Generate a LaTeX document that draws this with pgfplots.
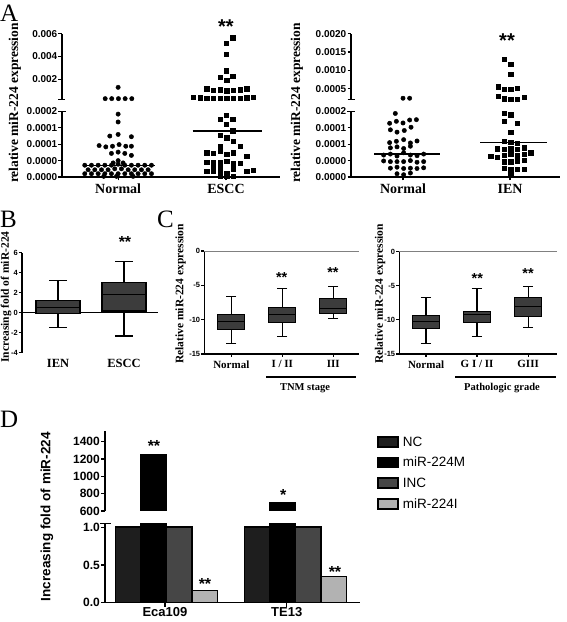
\documentclass[border=0pt]{standalone}
\usepackage{fontspec}
\setmainfont{Liberation Serif}
\newfontfamily\arial{Liberation Sans}
\usepackage{pgfplots}
\pgfplotsset{compat=1.18}
\usepgfplotslibrary{statistics}
\definecolor{boxgray}{HTML}{3C3C3C}
\definecolor{ncc}{HTML}{1E1E1E}
\definecolor{incc}{HTML}{464646}
\definecolor{mic}{HTML}{B2B2B2}
\newcommand{\fs}[1]{\fontsize{#1}{#1}\selectfont}
\pgfplotsset{
  gp/.style={scale only axis, clip=false, anchor=south west,
    axis x line*=bottom, axis y line*=left,
    axis line style={line width=1.2pt, black},
    tick style={line width=1.2pt, black},
    tick align=outside, major tick length=3.5pt,
    scaled y ticks=false},
  atk/.style={yticklabel style={font=\arial\bfseries\fs{10}, inner sep=1pt},
    xticklabel style={font=\bfseries\fs{14}}},
  dlegend/.style={legend image code/.code={\draw[##1, line width=1.6pt] (0pt,-5pt) rectangle (20pt,5pt);}},
  circ/.style={only marks, mark=*, mark size=2.2pt, black},
  sq/.style={only marks, mark=square*, mark size=2.2pt, black},
  bx/.style={draw=black, fill=boxgray, line width=1.2pt},
}
\begin{document}
\begin{tikzpicture}
\path[use as bounding box] (0,0) rectangle (567pt,622pt);

% ---------------- Panel A left ----------------
\begin{axis}[gp, atk, at={(62pt,445pt)}, width=218pt, height=65.5pt,
  xmin=0.48, xmax=2.5, ymin=0, ymax=20,
  xtick={1,2}, xticklabels={Normal,ESCC},
  ytick={0,5,10,15,20}, yticklabels={0.0000,0.0000,0.0001,0.0001,0.0002}]
\addplot[circ] coordinates {
(1.000,19.2) (1.000,16.8)
(0.923,12.5) (1.000,13.0) (1.123,12.3)
(0.824,9.6) (0.886,9.2) (0.948,9.4) (1.009,9.9) (1.071,9.4) (1.123,9.4)
(0.938,7.2) (1.000,7.6) (1.062,7.2) (1.123,6.6)
(1.000,5.0) (0.954,4.3) (1.046,4.3)
(0.691,3.6) (0.753,3.6) (0.815,3.6) (0.877,3.6) (0.938,3.6) (1.000,3.9) (1.062,3.6) (1.123,3.6) (1.185,3.6) (1.247,3.6) (1.309,3.6)
(0.722,2.2) (0.784,2.2) (0.846,2.2) (0.907,2.2) (0.969,2.5) (1.031,2.5) (1.093,2.2) (1.154,2.2) (1.216,2.2) (1.278,2.2)
(0.691,1.0) (0.753,1.0) (0.815,1.0) (0.877,1.0) (0.938,1.0) (1.000,1.0) (1.062,1.0) (1.123,1.0) (1.185,1.0) (1.247,1.0) (1.309,1.0)
(0.867,0.2) (0.985,0.2) (1.139,0.2)};
\addplot[sq] coordinates {
(2.000,18.9) (1.944,17.6) (2.062,17.6) (2.000,16.1) (2.062,14.1)
(1.944,12.7) (2.006,12.0) (2.068,11.0) (1.944,9.4) (2.130,9.4)
(1.821,7.4) (1.883,7.2) (1.944,7.9) (2.006,6.9) (2.068,7.4) (2.191,6.4)
(1.821,4.6) (1.883,4.6) (1.944,4.6) (2.006,4.8) (2.068,4.3) (2.130,4.3)
(1.883,3.3) (1.944,2.8) (2.068,2.8)
(1.821,1.7) (1.883,1.7) (1.944,1.7) (2.006,1.2) (2.068,2.3) (2.191,1.7) (2.253,2.1)
(1.944,0.2) (2.006,0.2) (2.068,0.2)};
\addplot[black, line width=1.3pt] coordinates {(0.67,3.6) (1.34,3.6)};
\addplot[black, line width=1.3pt] coordinates {(1.69,14.0) (2.33,14.0)};
\draw[line width=1.2pt] ([xshift=-4pt]rel axis cs:0,1) -- ([xshift=4pt]rel axis cs:0,1);
\end{axis}
\begin{axis}[gp, atk, hide x axis, at={(62pt,522.1pt)}, width=218pt, height=66.2pt,
  xmin=0.48, xmax=2.5, ymin=0.2, ymax=6,
  ytick={2,4,6}, yticklabels={0.002,0.004,0.006}]
\addplot[circ] coordinates {(1.000,1.30) (0.880,0.31) (0.941,0.31) (1.003,0.31) (1.065,0.31) (1.127,0.31)};
\addplot[sq] coordinates {
(2.062,5.65) (2.000,5.15) (2.000,4.22) (2.000,2.76) (2.062,2.29) (1.944,2.18) (2.006,1.94)
(1.821,1.18) (1.883,1.05) (1.944,1.10) (2.006,1.00) (2.068,1.05) (2.130,1.10) (2.191,1.18)
(1.698,0.45) (1.759,0.38) (1.821,0.36) (1.883,0.36) (1.944,0.36) (2.006,0.36) (2.068,0.36) (2.130,0.36) (2.191,0.38) (2.253,0.42)};
\draw[line width=1.2pt] ([xshift=-3.5pt]rel axis cs:0,0) -- ([xshift=3.5pt]rel axis cs:0,0);
\end{axis}

% ---------------- Panel A right ----------------
\begin{axis}[gp, atk, at={(351pt,445pt)}, width=209pt, height=65.5pt,
  xmin=0.514, xmax=2.467, ymin=0, ymax=20,
  xtick={1,2}, xticklabels={Normal,IEN},
  ytick={0,5,10,15,20}, yticklabels={0.0000,0.0000,0.0001,0.0001,0.0002}]
\addplot[circ] coordinates {
(0.928,19.4)
(0.875,16.4) (0.938,17.0) (1.000,16.5) (1.062,17.4) (1.125,17.5)
(0.882,14.4) (0.944,13.7) (1.012,14.2) (1.075,15.2)
(0.875,10.5) (0.938,10.9) (1.006,11.4) (1.069,10.4) (1.131,11.0)
(0.882,8.9) (0.944,9.2) (1.006,8.7) (1.069,9.4)
(0.819,6.7) (0.882,7.0) (0.944,6.4) (1.006,7.4) (1.069,6.7) (1.131,6.5) (1.193,7.0)
(0.819,4.9) (0.882,4.7) (0.944,4.7) (1.006,4.7) (1.069,5.0) (1.131,4.5) (1.193,4.7)
(0.882,2.7) (0.944,3.0) (1.006,2.6) (1.069,2.7) (1.131,2.6) (1.193,2.8)
(0.944,1.0) (1.006,0.7) (1.069,1.2)};
\addplot[sq] coordinates {
(1.944,19.4) (2.006,19.0) (1.944,17.0) (2.069,16.4) (2.006,13.7)
(1.944,11.0) (2.006,10.7) (2.069,10.4)
(1.882,8.7) (1.944,8.4) (2.006,8.7) (2.069,8.4) (2.131,8.9)
(1.819,6.4) (1.882,6.0) (1.944,6.7) (2.006,7.0) (2.069,6.7) (2.131,7.0) (2.193,7.4)
(1.944,4.7) (2.006,4.7) (2.069,5.0) (2.131,5.2)
(1.944,2.7) (2.006,2.2) (2.069,2.4) (2.131,2.4)
(2.006,1.0)};
\addplot[black, line width=1.3pt] coordinates {(0.73,7.0) (1.35,7.0)};
\addplot[black, line width=1.3pt] coordinates {(1.72,10.6) (2.35,10.6)};
\draw[line width=1.2pt] ([xshift=-4pt]rel axis cs:0,1) -- ([xshift=4pt]rel axis cs:0,1);
\end{axis}
\begin{axis}[gp, atk, hide x axis, at={(351pt,522.3pt)}, width=209pt, height=66pt,
  xmin=0.514, xmax=2.467, ymin=0.2, ymax=2,
  ytick={0.5,1,1.5,2}, yticklabels={0.0005,0.0010,0.0015,0.0020}]
\addplot[circ] coordinates {(1.000,0.24) (1.062,0.24)};
\addplot[sq] coordinates {
(1.944,1.30) (2.006,1.17) (2.006,0.90) (1.891,0.55) (1.944,0.48) (2.006,0.48) (2.069,0.52)
(1.891,0.30) (1.944,0.23) (2.006,0.22) (2.069,0.22) (2.131,0.27)};
\draw[line width=1.2pt] ([xshift=-3.5pt]rel axis cs:0,0) -- ([xshift=3.5pt]rel axis cs:0,0);
\end{axis}

% ---------------- Panel B ----------------
\begin{axis}[gp, at={(22pt,269.3pt)}, width=136pt, height=100pt,
  xmin=0.4545, xmax=2.515, ymin=-4, ymax=6,
  ytick={-4,-2,0,2,4,6}, yticklabels={-4,-2,0,2,4,6},
  xtick={1,2}, xticklabels={IEN,ESCC},
  x axis line style={draw=none}, xtick style={draw=none},
  major tick length=3pt,
  yticklabel style={font=\arial\bfseries\fs{7.5}, inner sep=1pt},
  xticklabel style={font=\bfseries\fs{12.5}},
  boxplot/draw direction=y]
\draw[line width=1.2pt] (rel axis cs:0,0.4) -- (rel axis cs:1,0.4);
\addplot[bx, boxplot prepared={draw position=1, lower whisker=-1.5, lower quartile=-0.06, median=0.54, upper quartile=1.2, upper whisker=3.2, box extend=0.667, whisker extend=0.27}] coordinates {};
\addplot[bx, boxplot prepared={draw position=2, lower whisker=-2.33, lower quartile=0.17, median=1.84, upper quartile=3.04, upper whisker=5.1, box extend=0.667, whisker extend=0.27}] coordinates {};
\end{axis}

% ---------------- Panel C left ----------------
\begin{axis}[gp, at={(204.3pt,268pt)}, width=155pt, height=103pt,
  xmin=0.4706, xmax=3.51, ymin=-15, ymax=0,
  ytick={-15,-10,-5,0}, yticklabels={-15,-10,-5,0},
  xtick={1,2,3}, xticklabels={Normal,I / II,III},
  major tick length=3pt,
  yticklabel style={font=\arial\bfseries\fs{7.5}, inner sep=1pt},
  xticklabel style={font=\bfseries\fs{11}},
  boxplot/draw direction=y]
\draw[gray, line width=0.7pt] (rel axis cs:0,1) -- (rel axis cs:1,1);
\addplot[bx, boxplot prepared={draw position=1, lower whisker=-13.5, lower quartile=-11.4, median=-10.3, upper quartile=-9.3, upper whisker=-6.65, box extend=0.53, whisker extend=0.2}] coordinates {};
\addplot[bx, boxplot prepared={draw position=2, lower whisker=-12.4, lower quartile=-10.4, median=-9.3, upper quartile=-8.2, upper whisker=-5.43, box extend=0.53, whisker extend=0.2}] coordinates {};
\addplot[bx, boxplot prepared={draw position=3, lower whisker=-9.8, lower quartile=-9.07, median=-8.35, upper quartile=-6.9, upper whisker=-5.2, box extend=0.53, whisker extend=0.2}] coordinates {};
\end{axis}

% ---------------- Panel C right ----------------
\begin{axis}[gp, at={(399.3pt,268pt)}, width=157.4pt, height=102.3pt,
  xmin=0.476, xmax=3.56, ymin=-15, ymax=0,
  ytick={-15,-10,-5,0}, yticklabels={-15,-10,-5,0},
  xtick={1,2,3}, xticklabels={Normal,G I / II,GIII},
  major tick length=3pt,
  yticklabel style={font=\arial\bfseries\fs{7.5}, inner sep=1pt},
  xticklabel style={font=\bfseries\fs{11}},
  boxplot/draw direction=y]
\draw[gray, line width=0.7pt] (rel axis cs:0,1) -- (rel axis cs:1,1);
\addplot[bx, boxplot prepared={draw position=1, lower whisker=-13.5, lower quartile=-11.3, median=-10.2, upper quartile=-9.34, upper whisker=-6.66, box extend=0.53, whisker extend=0.2}] coordinates {};
\addplot[bx, boxplot prepared={draw position=2, lower whisker=-12.4, lower quartile=-10.36, median=-9.24, upper quartile=-8.76, upper whisker=-5.45, box extend=0.53, whisker extend=0.2}] coordinates {};
\addplot[bx, boxplot prepared={draw position=3, lower whisker=-11.1, lower quartile=-9.5, median=-8.0, upper quartile=-6.7, upper whisker=-5.1, box extend=0.53, whisker extend=0.2}] coordinates {};
\end{axis}

% ---------------- Panel D ----------------
\begin{axis}[gp, at={(105pt,19.3pt)}, width=255pt, height=79.2pt,
  clip=true, clip mode=individual,
  xmin=0.523, xmax=2.5, ymin=0, ymax=1.05,
  ytick={0,0.5,1}, yticklabels={0.0,0.5,1.0},
  xtick={0.988,1.932}, xticklabels={Eca109,TE13},
  major tick length=4pt,
  yticklabel style={font=\arial\bfseries\fs{12}, inner sep=1pt},
  xticklabel style={font=\arial\bfseries\fs{13}, inner sep=1pt},
  legend style={at={(axis description cs:1.055,2.15)}, anchor=north west, draw=none, fill=none,
    font=\arial\fs{13.5}, row sep=5.5pt, legend cell align=left,
    nodes={inner xsep=4pt}},
  legend cell align=left]
\addplot[ybar, bar width=0.1977, bar shift=-0.2966, fill=ncc, draw=black, line width=1.6pt, dlegend] coordinates {(1,1) (2,1)};
\addplot[ybar, bar width=0.1977, bar shift=-0.0989, fill=black, draw=black, line width=1.6pt, dlegend,
  y filter/.expression={min(y,1.2)}] coordinates {(1,1250) (2,700)};
\addplot[ybar, bar width=0.1977, bar shift=0.0989, fill=incc, draw=black, line width=1.6pt, dlegend] coordinates {(1,1) (2,1)};
\addplot[ybar, bar width=0.1977, bar shift=0.2966, fill=mic, draw=black, line width=1.6pt, dlegend] coordinates {(1,0.16) (2,0.35)};
\legend{NC,miR-224M,INC,miR-224I}
\draw[line width=1.2pt] ([xshift=-5pt]rel axis cs:0,1) -- ([xshift=6pt]rel axis cs:0,1);
\end{axis}
\begin{axis}[gp, hide x axis, at={(105pt,111pt)}, width=255pt, height=79.7pt,
  clip=true, clip mode=individual,
  xmin=0.523, xmax=2.5, ymin=600, ymax=1520,
  ytick={600,800,1000,1200,1400}, yticklabels={600,800,1000,1200,1400},
  major tick length=4pt,
  yticklabel style={font=\arial\bfseries\fs{12}, inner sep=1pt}]
\addplot[ybar, bar width=0.1977, bar shift=-0.0989, fill=black, draw=black, line width=1.6pt] coordinates {(1,1250) (2,700)};
\end{axis}

% ---------------- Text ----------------
\node[anchor=base west, inner sep=0, font=\fs{25}] at (0pt,600pt) {A};
\node[anchor=base west, inner sep=0, font=\fs{25}] at (0pt,394pt) {B};
\node[anchor=base west, inner sep=0, font=\fs{25}] at (157pt,394pt) {C};
\node[anchor=base west, inner sep=0, font=\fs{25}] at (0pt,194pt) {D};

\node[rotate=90, inner sep=0, font=\bfseries\fs{13.5}] at (15pt,519pt) {relative miR-224 expression};
\node[rotate=90, inner sep=0, font=\bfseries\fs{13.5}] at (297pt,519pt) {relative miR-224 expression};
\node[rotate=90, inner sep=0, font=\bfseries\fs{11.5}] at (6pt,325pt) {Increasing fold of miR-224};
\node[rotate=90, inner sep=0, font=\bfseries\fs{11.5}] at (180.5pt,328pt) {Relative miR-224 expression};
\node[rotate=90, inner sep=0, font=\bfseries\fs{11.5}] at (380pt,328pt) {Relative miR-224 expression};
\node[rotate=90, inner sep=0, font=\arial\bfseries\fs{13.5}] at (47pt,105.3pt) {Increasing fold of miR-224};

\node[inner sep=0, font=\bfseries\fs{10.5}] at (305pt,234pt) {TNM stage};
\draw[line width=1.2pt] (266pt,245pt) -- (356pt,245pt);
\node[inner sep=0, font=\bfseries\fs{10.5}] at (502pt,234pt) {Pathologic grade};
\draw[line width=1.2pt] (455pt,245pt) -- (556pt,245pt);

% stars
\node[inner sep=0, font=\arial\bfseries\fs{20}] at (226pt,595.6pt) {**};
\node[inner sep=0, font=\arial\bfseries\fs{20}] at (507pt,581.6pt) {**};
\node[inner sep=0, font=\arial\bfseries\fs{16}] at (125pt,380.2pt) {**};
\node[inner sep=0, font=\arial\bfseries\fs{14.5}] at (281.7pt,344.8pt) {**};
\node[inner sep=0, font=\arial\bfseries\fs{14.5}] at (333pt,349.8pt) {**};
\node[inner sep=0, font=\arial\bfseries\fs{14.5}] at (477.3pt,343.1pt) {**};
\node[inner sep=0, font=\arial\bfseries\fs{14.5}] at (528pt,348.8pt) {**};
\node[inner sep=0, font=\arial\bfseries\fs{16}] at (154pt,176.2pt) {**};
\node[inner sep=0, font=\arial\bfseries\fs{16}] at (205pt,38.5pt) {**};
\node[inner sep=0, font=\arial\bfseries\fs{16}] at (283.3pt,126.8pt) {*};
\node[inner sep=0, font=\arial\bfseries\fs{16}] at (335pt,50pt) {**};
\end{tikzpicture}
\end{document}
